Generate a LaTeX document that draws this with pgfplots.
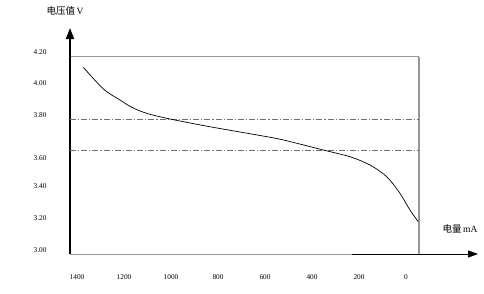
\documentclass[border=0pt]{standalone}
\usepackage{fontspec}
\setmainfont{Liberation Serif}
\newfontfamily\cjk{Noto Sans CJK SC}
\usepackage{pgfplots}
\pgfplotsset{compat=1.18}
\usetikzlibrary{arrows.meta}
\definecolor{boxgray}{RGB}{150,150,150}
\definecolor{dashgray}{RGB}{110,110,110}
\begin{document}
\begin{tikzpicture}
\begin{axis}[
  scale only axis,
  width=408pt, height=226pt,
  x dir=reverse,
  xmin=-306.4, xmax=1430,
  ymin=2.9758, ymax=4.3455,
  axis line style={draw=none},
  major tick length=0pt,
  xtick={1400,1200,1000,800,600,400,200,0},
  xticklabels={1400,1200,1000,800,600,400,200,0},
  ytick={3.0,3.194,3.388,3.558,3.818,4.012,4.2},
  yticklabels={3.00,3.20,3.40,3.60,3.80,4.00,4.20},
  /pgf/number format/assume math mode=true,
  ticklabel style={font=\fontsize{7.3}{8}\selectfont},
  xticklabel style={yshift=-17pt},
  yticklabel style={xshift=-20pt},
  clip=false,
]
% box
\draw[boxgray, line width=1pt] (axis cs:1430,4.170) -- (axis cs:-55,4.170);
\draw[boxgray, line width=1.2pt] (axis cs:-55,2.9758) -- (axis cs:-55,4.170);
% axes with arrows
\draw[black, line width=0.9pt, -{Triangle[width=7pt,length=10pt]}] (axis description cs:0,0) -- (axis description cs:1,0);
\draw[boxgray, line width=1pt] (axis description cs:0,0) -- (axis description cs:0.691,0);
\draw[black, line width=1.6pt, -{Triangle[width=8pt,length=11pt]}] (axis description cs:0,0) -- (axis description cs:0,1);
% reference lines
\addplot[dashgray, line width=0.7pt, dash pattern=on 6pt off 2pt on 1.2pt off 2pt] coordinates {(1430,3.794) (-55,3.794)};
\addplot[dashgray, line width=0.7pt, dash pattern=on 6pt off 2pt on 1.2pt off 2pt] coordinates {(1430,3.606) (-55,3.606)};
% discharge curve
\addplot[black, line width=0.7pt, smooth] coordinates {
(1373,4.107) (1288,3.976) (1217,3.909) (1167,3.865) (1103,3.828)
(1004,3.794) (834,3.747) (621,3.694) (522,3.667) (352,3.606)
(238,3.565) (153,3.515) (82,3.444) (26,3.344) (-17,3.242) (-52,3.172)
};
\node[font=\fontsize{9.5}{10}\selectfont] at (axis description cs:-0.012,1.075) {\cjk 电压值\,\rmfamily V};
\node[font=\fontsize{9.5}{10}\selectfont] at (axis description cs:0.956,0.111) {\cjk 电量\,\rmfamily mA};
\end{axis}
\pgfresetboundingbox
\path (current axis.south west) ++(-70pt,-39pt) rectangle ++(484pt,293pt);
\end{tikzpicture}
\end{document}
